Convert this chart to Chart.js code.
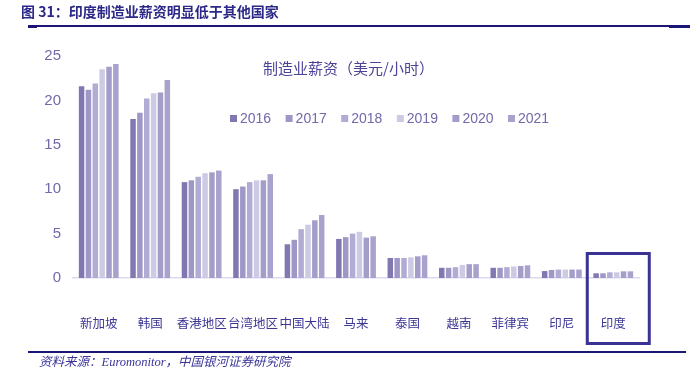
<!DOCTYPE html>
<html>
<head>
<meta charset="utf-8">
<script src="https://cdn.jsdelivr.net/npm/chart.js@4.4.0/dist/chart.umd.min.js"></script>
<style>
  html, body { margin: 0; padding: 0; background: #fff; }
  canvas { display: block; }
</style>
</head>
<body>
<canvas id="chart" width="693" height="377"></canvas>
<script>
// data (USD per hour)
const regions = ["新加坡", "韩国", "香港地区", "台湾地区", "中国大陆", "马来", "泰国", "越南", "菲律宾", "印尼", "印度"];
const years = ["2016", "2017", "2018", "2019", "2020", "2021"];
const wage2016 = [21.6, 17.9, 10.8, 10.0, 3.8, 4.4, 2.25, 1.15, 1.15, 0.78, 0.53];
const wage2017 = [21.2, 18.6, 11.0, 10.3, 4.3, 4.6, 2.25, 1.15, 1.15, 0.9, 0.53];
const wage2018 = [21.9, 20.2, 11.4, 10.8, 5.5, 5.0, 2.25, 1.22, 1.22, 0.95, 0.64];
const wage2019 = [23.5, 20.8, 11.8, 11.0, 6.0, 5.2, 2.33, 1.47, 1.3, 0.95, 0.64];
const wage2020 = [23.8, 20.9, 11.9, 11.0, 6.5, 4.55, 2.44, 1.56, 1.35, 0.95, 0.75];
const wage2021 = [24.1, 22.3, 12.1, 11.7, 7.1, 4.7, 2.56, 1.56, 1.43, 0.95, 0.75];
const yTicks = [0, 5, 10, 15, 20, 25];

const barColors = ["#8178b2", "#9f98c7", "#b1acd4", "#cdcae4", "#a39dca", "#a8a2cc"];
const series = [wage2016, wage2017, wage2018, wage2019, wage2020, wage2021];

const cjk = "'Noto Sans CJK SC', 'Noto Sans', sans-serif";

// header, footer, inner title, legend and the India box
const decorations = {
  id: "decorations",
  afterDraw(chart) {
    const ctx = chart.ctx;
    const x = chart.scales.x;
    ctx.save();

    // header
    ctx.fillStyle = "#2b2888";
    ctx.font = "bold 14px " + cjk;
    ctx.textBaseline = "middle";
    ctx.textAlign = "left";
    ctx.fillText("图 31：印度制造业薪资明显低于其他国家", 21, 12);
    ctx.fillStyle = "#1b1676";
    ctx.fillRect(28, 25, 662, 2);
    ctx.fillRect(28, 25, 9, 3);
    ctx.fillRect(669, 25, 21, 3);

    // inner title
    ctx.fillStyle = "#4a4397";
    ctx.font = "15px " + cjk;
    ctx.fillText("制造业薪资（美元/小时）", 263, 68);

    // legend
    ctx.font = "14px 'Liberation Sans', Arial, sans-serif";
    chart.data.datasets.forEach((ds, i) => {
      const lx = 230 + i * 55.6;
      ctx.fillStyle = ds.backgroundColor;
      ctx.fillRect(lx, 115, 7, 7);
      ctx.fillStyle = "#7069aa";
      ctx.fillText(ds.label, lx + 10, 119.5);
    });

    // box around India
    const cx = x.getPixelForValue(regions.length - 1);
    ctx.strokeStyle = "#3b3296";
    ctx.lineWidth = 3;
    ctx.strokeRect(cx - 26, 253.5, 62, 90);

    // footer
    ctx.fillStyle = "#1b1676";
    ctx.fillRect(28, 351, 658, 2);
    ctx.fillStyle = "#3a3498";
    ctx.font = "italic 12.5px 'Liberation Serif', " + cjk;
    ctx.fillText("资料来源：Euromonitor，中国银河证券研究院", 39, 363);

    ctx.restore();
  }
};

new Chart(document.getElementById("chart"), {
  type: "bar",
  data: {
    labels: regions,
    datasets: years.map((y, i) => ({
      label: y,
      data: series[i],
      backgroundColor: barColors[i],
      barPercentage: 0.8,
      categoryPercentage: 0.8,
    })),
  },
  options: {
    responsive: false,
    animation: false,
    layout: { padding: { top: 56, right: 54, left: 0, bottom: 0 } },
    plugins: {
      legend: { display: false },
      title: { display: false },
      tooltip: { enabled: false },
    },
    scales: {
      x: {
        grid: { display: false, drawTicks: false },
        border: { display: true, color: "#dcdaef", width: 1.5 },
        ticks: {
          padding: 38,
          color: "#3c3594",
          font: { family: cjk, size: 12.5 },
          maxRotation: 0,
          autoSkip: false,
        },
        afterFit(scale) { scale.height = 99; },
      },
      y: {
        min: 0,
        max: 25,
        afterBuildTicks(scale) { scale.ticks = yTicks.map((v) => ({ value: v })); },
        grid: { display: false, drawTicks: false },
        border: { display: false },
        ticks: {
          padding: 12,
          color: "#7069aa",
          font: { family: "'Liberation Sans', Arial, sans-serif", size: 15 },
        },
        afterFit(scale) { scale.width = 73; },
      },
    },
  },
  plugins: [decorations],
});
</script>
</body>
</html>
